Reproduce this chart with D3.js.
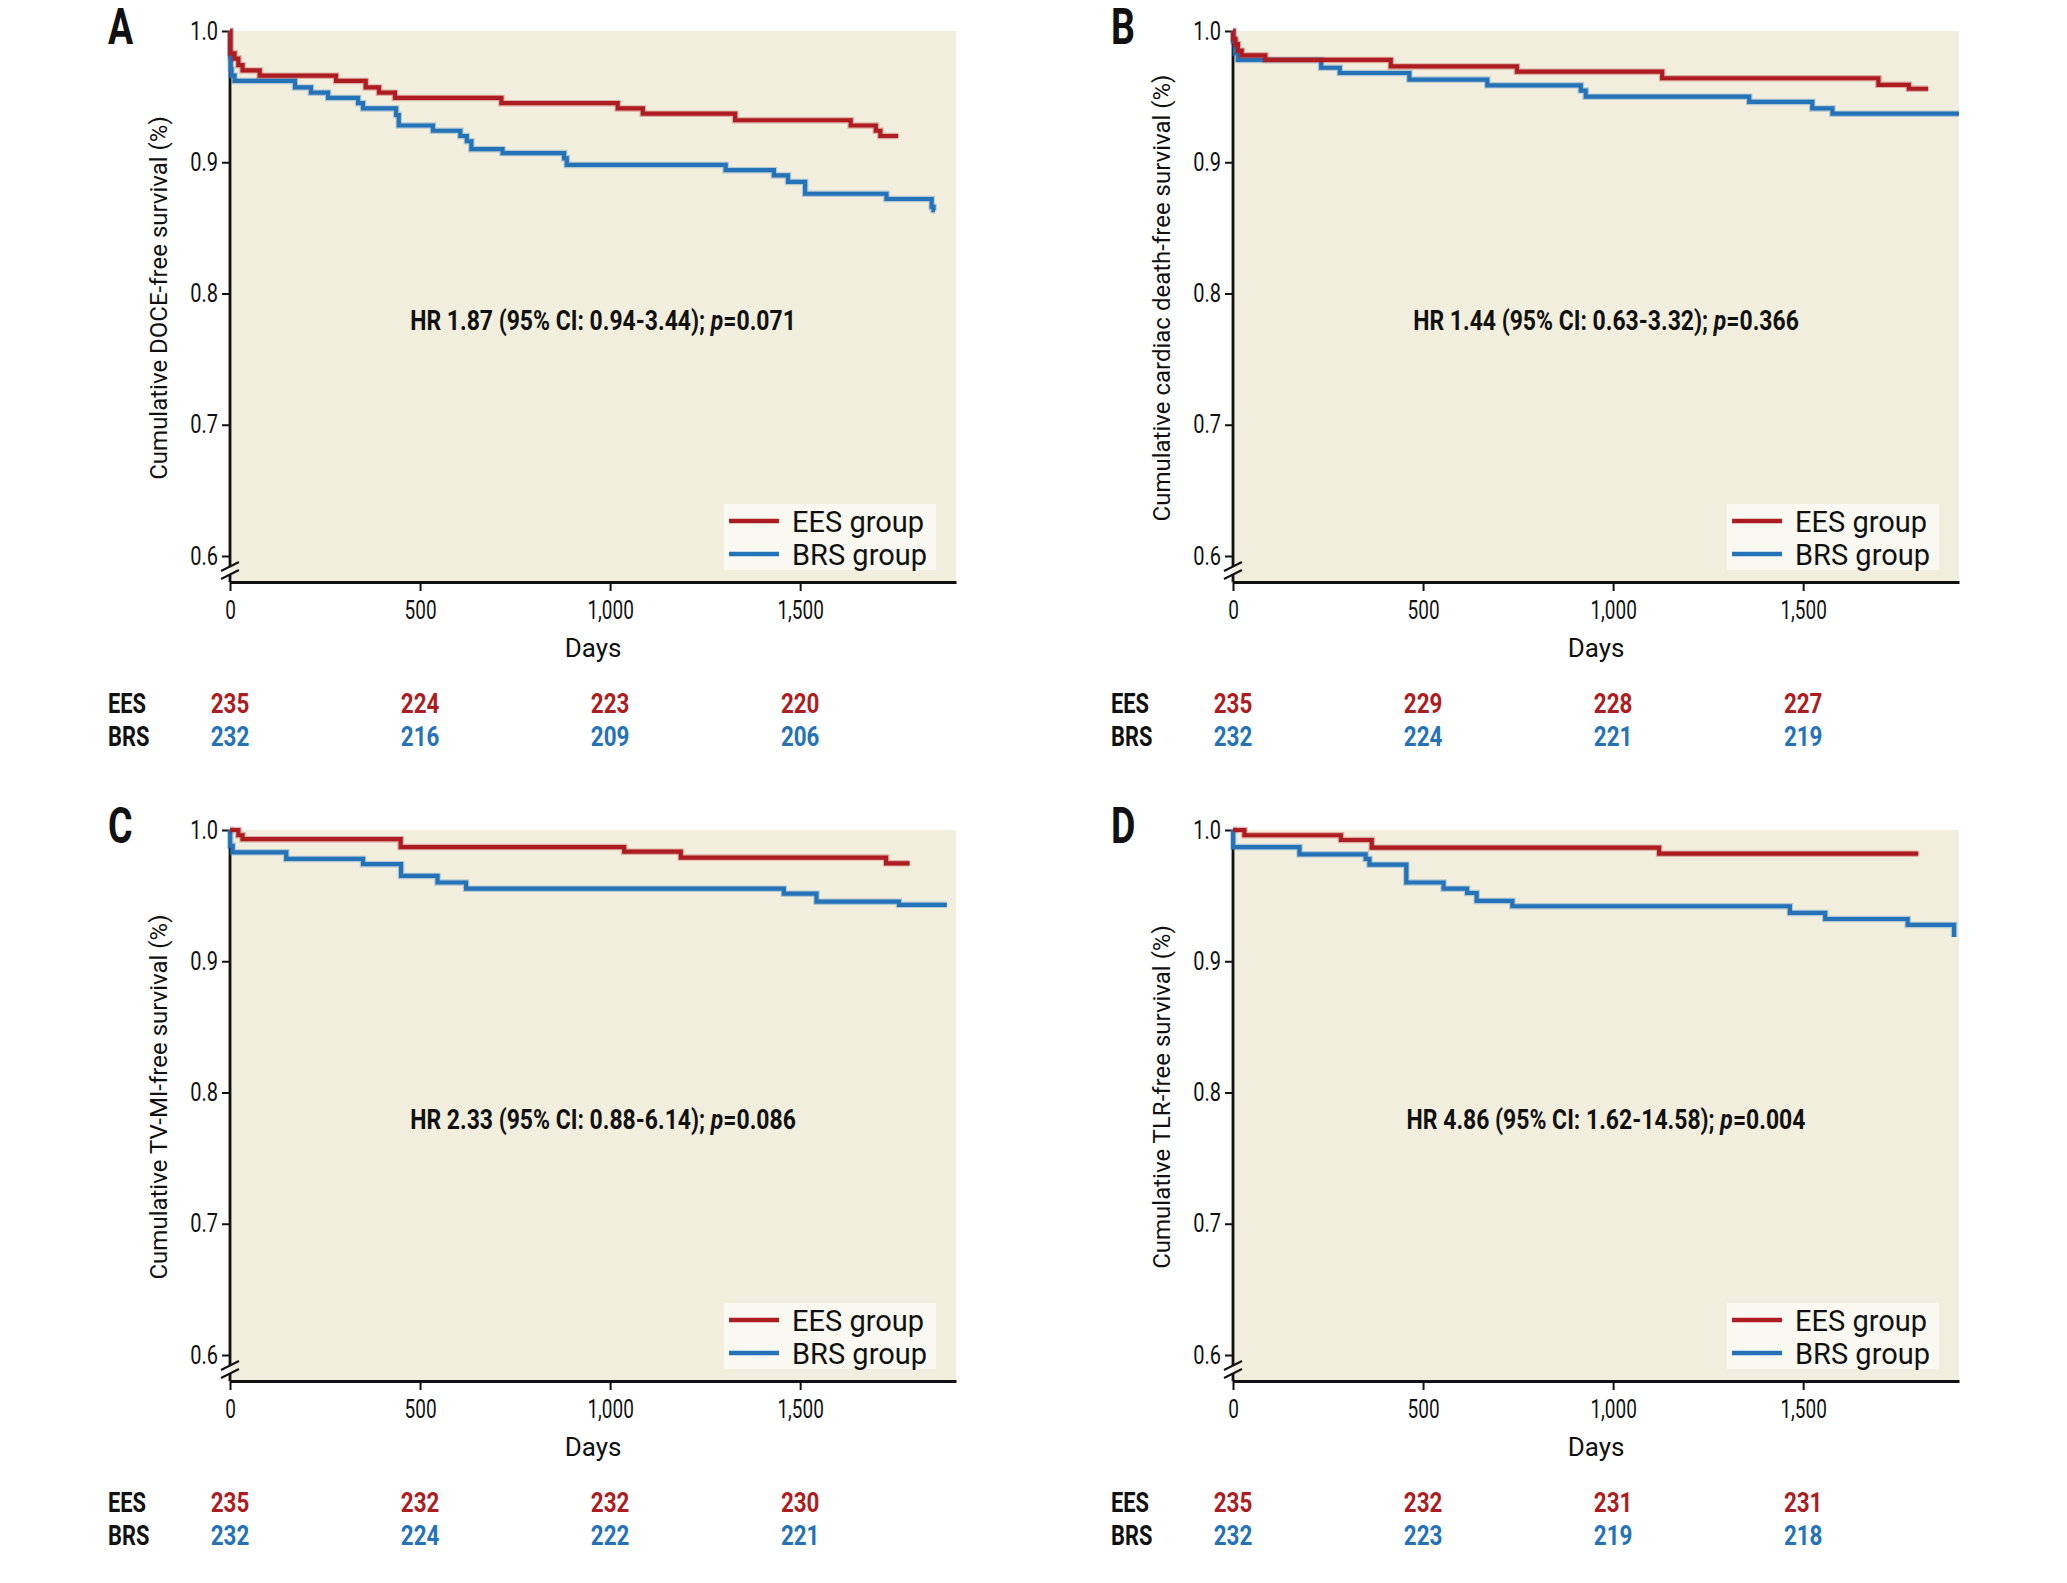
<!DOCTYPE html>
<html>
<head>
<meta charset="utf-8">
<script src="https://cdn.jsdelivr.net/npm/d3@7"></script>
<style>
  body { margin: 0; background: #fff; }
</style>
</head>
<body>
<div id="chart"></div>
<script>
// ---- labels ----
var panelLetters = ["A", "B", "C", "D"];
var yTitles = [
  "Cumulative DOCE-free survival (%)",
  "Cumulative cardiac death-free survival (%)",
  "Cumulative TV-MI-free survival (%)",
  "Cumulative TLR-free survival (%)"
];
var hrLabels = [
  "HR 1.87 (95% CI: 0.94-3.44); ",
  "HR 1.44 (95% CI: 0.63-3.32); ",
  "HR 2.33 (95% CI: 0.88-6.14); ",
  "HR 4.86 (95% CI: 1.62-14.58); "
];
var pLabels = ["=0.071", "=0.366", "=0.086", "=0.004"];
var legendLabels = ["EES group", "BRS group"];
var rowLabels = ["EES", "BRS"];
var xTicks = [0, 500, 1000, 1500];
var yTicks = [0.6, 0.7, 0.8, 0.9, 1.0];

// ---- numbers at risk ----
var riskEesA = [235, 224, 223, 220], riskBrsA = [232, 216, 209, 206];
var riskEesB = [235, 229, 228, 227], riskBrsB = [232, 224, 221, 219];
var riskEesC = [235, 232, 232, 230], riskBrsC = [232, 224, 222, 221];
var riskEesD = [235, 232, 231, 231], riskBrsD = [232, 223, 219, 218];

// ---- Kaplan-Meier steps [day, survival] ----
var eesA = [[0,1.0],[1,0.983],[12,0.979],[22,0.974],[33,0.970],[78,0.966],[279,0.962],[357,0.957],
  [392,0.953],[434,0.949],[714,0.945],[1020,0.941],[1086,0.937],[1329,0.932],[1633,0.928],
  [1699,0.924],[1711,0.920],[1758,0.920]];
var brsA = [[0,1.0],[0.5,0.980],[2,0.971],[4,0.966],[12,0.962],[171,0.957],[213,0.953],[258,0.949],
  [337,0.945],[350,0.941],[437,0.936],[444,0.928],[534,0.924],[606,0.920],[623,0.916],[635,0.910],
  [717,0.907],[879,0.903],[886,0.898],[1304,0.894],[1431,0.890],[1468,0.885],[1513,0.876],
  [1727,0.872],[1846,0.866],[1851,0.8635],[1855,0.8635]];
var eesB = [[0,1.0],[1,0.994],[6,0.990],[13,0.985],[23,0.9815],[85,0.978],[415,0.973],[747,0.969],
  [1129,0.964],[1698,0.959],[1778,0.956],[1829,0.956]];
var brsB = [[0,1.0],[0.5,0.992],[6,0.983],[13,0.978],[232,0.972],[281,0.968],[464,0.963],[669,0.9586],
  [915,0.9546],[928,0.950],[1358,0.946],[1524,0.941],[1577,0.937],[1910,0.937]];
var eesC = [[0,1.0],[22,0.996],[33,0.993],[449,0.987],[1037,0.9835],[1186,0.979],[1726,0.9746],[1788,0.9746]];
var brsC = [[0,1.0],[0.5,0.988],[7,0.983],[148,0.978],[350,0.974],[450,0.965],[546,0.960],[621,0.9553],
  [1457,0.9515],[1543,0.9454],[1760,0.943],[1886,0.943]];
var eesD = [[0,1.0],[30,0.996],[284,0.9924],[365,0.9865],[1121,0.982],[1803,0.982]];
var brsD = [[0,1.0],[0.5,0.987],[175,0.9815],[349,0.978],[359,0.9736],[456,0.960],[554,0.9553],[616,0.952],
  [641,0.946],[735,0.9419],[1465,0.9368],[1558,0.9322],[1775,0.9277],[1897,0.9185]];

var panels = [
  {ees: eesA, brs: brsA, riskE: riskEesA, riskB: riskBrsA},
  {ees: eesB, brs: brsB, riskE: riskEesB, riskB: riskBrsB},
  {ees: eesC, brs: brsC, riskE: riskEesC, riskB: riskBrsC},
  {ees: eesD, brs: brsD, riskE: riskEesD, riskB: riskBrsD}
];
var offsets = [[0, 0], [1003, 0], [0, 799], [1003, 799]];

var width = 2067, height = 1583;
var red = "#ad1c20", blue = "#2472b8", ink = "#111";
var font = "Roboto, 'Liberation Sans', sans-serif";

var svg = d3.select("#chart").append("svg")
  .attr("width", width)
  .attr("height", height)
  .style("background", "#fff");

var x = d3.scaleLinear().domain([0, 1910]).range([230, 956]);
var y = d3.scaleLinear().domain([0.6, 1.0]).range([556, 31]);
var axisY = 582;

var line = d3.line()
  .x(d => x(d[0]))
  .y(d => y(d[1]))
  .curve(d3.curveStepAfter);

// text helper, sx squeezes the glyphs to mimic a condensed face
function label(g, px, py, str, size, weight, sx, anchor, fill) {
  return g.append("text")
    .attr("transform", "translate(" + px + "," + py + ") scale(" + sx + ",1)")
    .attr("text-anchor", anchor)
    .style("font-family", font)
    .style("font-size", size + "px")
    .style("font-weight", weight)
    .style("fill", fill)
    .text(str);
}

panels.forEach(function(p, i) {
  var g = svg.append("g")
    .attr("transform", "translate(" + offsets[i][0] + "," + offsets[i][1] + ")");

  // plot background
  g.append("rect")
    .attr("x", x(0)).attr("y", y(1.0))
    .attr("width", x.range()[1] - x(0))
    .attr("height", axisY - y(1.0))
    .style("fill", "#f2eedd");

  // x axis
  var xAxis = d3.axisBottom(x)
    .tickValues(xTicks)
    .tickFormat(d3.format(","))
    .tickSize(9)
    .tickSizeOuter(0);
  var gx = g.append("g")
    .attr("transform", "translate(0," + axisY + ")")
    .call(xAxis);
  gx.select(".domain").style("stroke", ink).style("stroke-width", 2.8);
  gx.selectAll(".tick line").style("stroke", ink).style("stroke-width", 2);
  gx.selectAll(".tick text")
    .attr("y", 37).attr("dy", null)
    .attr("transform", "scale(0.76,1)")
    .style("font-family", font).style("font-size", "25px").style("fill", ink);

  // y axis (own domain line so it can carry the break)
  var yAxis = d3.axisLeft(y)
    .tickValues(yTicks)
    .tickFormat(d3.format(".1f"))
    .tickSize(8)
    .tickSizeOuter(0);
  var gy = g.append("g")
    .attr("transform", "translate(" + x(0) + ",0)")
    .call(yAxis);
  gy.select(".domain").remove();
  gy.selectAll(".tick line").style("stroke", ink).style("stroke-width", 2);
  gy.selectAll(".tick text")
    .attr("x", -12 / 0.8)
    .attr("transform", "scale(0.8,1)")
    .style("font-family", font).style("font-size", "25px").style("fill", ink);

  g.append("line")
    .attr("x1", x(0)).attr("x2", x(0))
    .attr("y1", y(1.0)).attr("y2", 566)
    .style("stroke", ink).style("stroke-width", 2.8);
  g.append("line")
    .attr("x1", x(0)).attr("x2", x(0))
    .attr("y1", 575).attr("y2", axisY)
    .style("stroke", ink).style("stroke-width", 2.8);
  [0, 8].forEach(function(o) {
    g.append("line")
      .attr("x1", x(0) - 9).attr("y1", 571 + o)
      .attr("x2", x(0) + 9).attr("y2", 562 + o)
      .style("stroke", ink).style("stroke-width", 2);
  });

  // curves
  [[p.brs, blue], [p.ees, red]].forEach(function(c) {
    g.append("path")
      .datum(c[0])
      .attr("d", line)
      .style("fill", "none")
      .style("stroke", c[1])
      .style("stroke-opacity", 0.3)
      .style("stroke-width", 6.5);
    g.append("path")
      .datum(c[0])
      .attr("d", line)
      .style("fill", "none")
      .style("stroke", c[1])
      .style("stroke-width", 4.2);
  });

  // legend
  var lx = x.range()[1] - 232, ly = axisY - 78;
  g.append("rect")
    .attr("x", lx).attr("y", ly)
    .attr("width", 212).attr("height", 66)
    .style("fill", "#f9f8f1");
  [red, blue].forEach(function(col, k) {
    g.append("line")
      .attr("x1", lx + 5).attr("x2", lx + 55)
      .attr("y1", ly + 17 + k * 33).attr("y2", ly + 17 + k * 33)
      .style("stroke", col).style("stroke-width", 4.5);
    label(g, lx + 68, ly + 28 + k * 33, legendLabels[k], 29, 400, 1, "start", ink);
  });

  // titles
  label(g, 108, 44, panelLetters[i], 50, 700, 0.75, "start", ink);

  g.append("text")
    .attr("transform", "translate(167,298) rotate(-90)")
    .attr("text-anchor", "middle")
    .style("font-family", font)
    .style("font-size", "24px")
    .style("fill", ink)
    .text(yTitles[i]);

  label(g, (x.range()[0] + x.range()[1]) / 2, 657, "Days", 26, 400, 1, "middle", ink);

  var hr = label(g, 603, 330, hrLabels[i], 28, 700, 0.82, "middle", ink);
  hr.append("tspan").style("font-style", "italic").text("p");
  hr.append("tspan").text(pLabels[i]);

  // numbers at risk
  label(g, 108, 713, rowLabels[0], 28, 700, 0.78, "start", ink);
  label(g, 108, 746, rowLabels[1], 28, 700, 0.78, "start", ink);
  xTicks.forEach(function(t, k) {
    label(g, x(t), 713, p.riskE[k], 28, 700, 0.8, "middle", red);
    label(g, x(t), 746, p.riskB[k], 28, 700, 0.8, "middle", blue);
  });
});
</script>
</body>
</html>
